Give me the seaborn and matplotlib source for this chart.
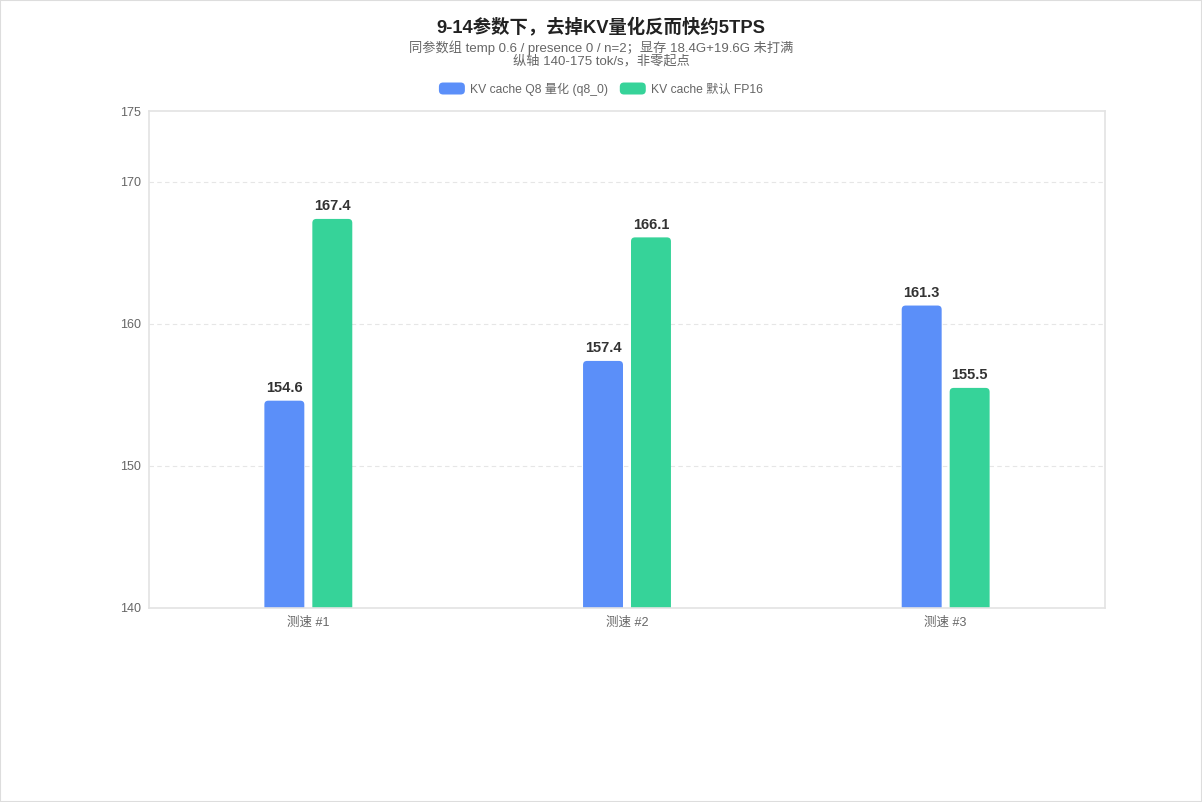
import matplotlib
matplotlib.use("Agg")
import matplotlib.pyplot as plt
import seaborn as sns
import pandas as pd
from matplotlib.patches import FancyBboxPatch, Patch
from matplotlib.legend_handler import HandlerPatch

categories = ["测速 #1", "测速 #2", "测速 #3"]
series_names = ["KV cache Q8 量化 (q8_0)", "KV cache 默认 FP16"]
q8_values = [154.6, 157.4, 161.3]
fp16_values = [167.4, 166.1, 155.5]
yticks = [140, 150, 160, 170, 175]
colors = ["#5B8FF9", "#36D399"]

title = "9-14参数下，去掉KV量化反而快约5TPS"
subtitle = "同参数组 temp 0.6 / presence 0 / n=2；显存 18.4G+19.6G 未打满\n纵轴 140-175 tok/s，非零起点"

df = pd.DataFrame({
    "cat": categories * 2,
    "series": [series_names[0]] * 3 + [series_names[1]] * 3,
    "value": q8_values + fp16_values,
})

sns.set_theme(style="white")
plt.rcParams["font.family"] = ["Liberation Sans", "Noto Sans CJK SC", "DejaVu Sans"]

fig = plt.figure(figsize=(12.02, 8.02), dpi=100)
ax = fig.add_axes([149 / 1202, 1 - 608 / 802, (1105 - 149) / 1202, (608 - 111) / 802])

sns.barplot(data=df, x="cat", y="value", hue="series", palette=colors,
            width=0.301, gap=0.167, ax=ax, legend=False, saturation=1,
            order=categories, hue_order=series_names)

ax.set_ylim(140, 175)
ax.set_xlim(-0.5, 2.5)

# rounded tops
px_per_x = (1105 - 149) / 3.0
px_per_y = (608 - 111) / 35.0
r_px = 4
mut_aspect = (r_px / px_per_y) / (r_px / px_per_x)
old = list(ax.patches)
for p in old:
    x, y = p.get_x(), p.get_y()
    w, h = p.get_width(), p.get_height()
    fc = p.get_facecolor()
    p.remove()
    fb = FancyBboxPatch((x, y), w, h,
                        boxstyle=f"round,pad=0,rounding_size={r_px / px_per_x}",
                        mutation_aspect=mut_aspect, facecolor=fc, edgecolor="none",
                        linewidth=0)
    ax.add_patch(fb)
    ax.annotate(f"{y + h:.1f}", (x + w / 2, y + h), xytext=(0, 4),
                textcoords="offset points", ha="center", va="bottom",
                fontsize=10.5, fontweight="bold", color="#333333")

ax.set_yticks(yticks)
ax.set_yticklabels([str(t) for t in yticks])
ax.set_xticks(range(len(categories)))
ax.set_xticklabels(categories)
ax.set_xlabel("")
ax.set_ylabel("")
ax.tick_params(axis="y", length=0, labelsize=9, labelcolor="#666666", pad=6)
ax.tick_params(axis="x", length=0, labelsize=9, labelcolor="#666666", pad=6)
ax.set_xticks([-0.5, 0.5, 1.5, 2.5], minor=True)
ax.tick_params(axis="x", which="minor", length=5, color="#e0e0e0", width=1)

for y in [150, 160, 170]:
    ax.axhline(y, color="#e6e6e6", linestyle=(0, (4, 3)), linewidth=0.8, zorder=0)

for s in ax.spines.values():
    s.set_color("#e3e3e3")
    s.set_linewidth(1.2)

fig.text(0.5, 1 - 27 / 802, title, ha="center", va="center", fontsize=13.2,
         fontweight="bold", color="#222222")
fig.text(0.5, 1 - 54 / 802, subtitle, ha="center", va="center", fontsize=9.5,
         color="#666666", linespacing=0.95)


class RoundHandler(HandlerPatch):
    def create_artists(self, legend, orig_handle, xdescent, ydescent, width, height, fontsize, trans):
        p = FancyBboxPatch((-xdescent, -ydescent), width, height,
                           boxstyle="round,pad=0,rounding_size=3",
                           facecolor=orig_handle.get_facecolor(), edgecolor="none")
        p.set_transform(trans)
        return [p]


handles = [Patch(facecolor=c, edgecolor="none", label=n) for c, n in zip(colors, series_names)]
leg = fig.legend(handles=handles, loc="center", bbox_to_anchor=(0.5, 1 - 89 / 802),
                 ncol=2, frameon=False, fontsize=8.7, handlelength=2.15, handleheight=1.15,
                 columnspacing=0.95, handletextpad=0.45, labelcolor="#666666",
                 handler_map={Patch: RoundHandler()})

fig.patches.append(plt.Rectangle((0, 0), 1, 1, transform=fig.transFigure, fill=False,
                                 edgecolor="#dddddd", linewidth=1.5))

fig.savefig("out.png", dpi=100)
